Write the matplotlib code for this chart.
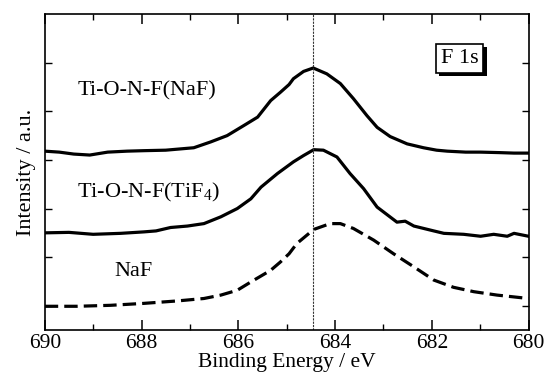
import matplotlib
matplotlib.use('Agg')
import matplotlib.pyplot as plt
import matplotlib.patheffects as pe
from matplotlib.ticker import MultipleLocator

plt.rcParams['font.family'] = ['Liberation Serif', 'DejaVu Serif']
plt.rcParams['mathtext.fontset'] = 'custom'
plt.rcParams['mathtext.rm'] = 'Liberation Serif'

# F 1s spectra (binding energy in eV, intensity offset in arb. units)
e_naf_film = [690.0, 689.7, 689.4, 689.07, 688.7, 688.3, 687.95, 687.5, 686.92, 686.57,
              686.23, 685.88, 685.6, 685.33, 685.13, 684.95, 684.86, 684.65, 684.45,
              684.17, 683.89, 683.62, 683.34, 683.13, 682.86, 682.51, 682.17, 681.9,
              681.68, 681.3, 680.99, 680.6, 680.3, 680.0]
i_naf_film = [3.68, 3.66, 3.62, 3.60, 3.66, 3.68, 3.69, 3.70, 3.75, 3.87,
              4.00, 4.21, 4.38, 4.72, 4.89, 5.05, 5.17, 5.32, 5.39,
              5.27, 5.07, 4.76, 4.41, 4.17, 3.98, 3.83, 3.75, 3.70,
              3.68, 3.66, 3.66, 3.65, 3.64, 3.64]

e_tif4_film = [690.0, 689.5, 689.0, 688.43, 687.95, 687.7, 687.4, 687.05, 686.71, 686.36,
               686.02, 685.74, 685.53, 685.19, 684.86, 684.65, 684.44, 684.24, 683.96,
               683.69, 683.41, 683.13, 682.72, 682.55, 682.37, 681.96, 681.75, 681.34,
               680.99, 680.72, 680.44, 680.3, 680.0]
i_tif4_film = [2.00, 2.01, 1.97, 1.99, 2.02, 2.04, 2.11, 2.14, 2.19, 2.33,
               2.50, 2.70, 2.94, 3.22, 3.46, 3.59, 3.71, 3.70, 3.56,
               3.22, 2.91, 2.53, 2.22, 2.24, 2.14, 2.04, 1.99, 1.97,
               1.93, 1.97, 1.93, 1.99, 1.93]

e_naf_ref = [690.0, 689.33, 688.64, 687.95, 687.26, 686.71, 686.36, 686.02, 685.74,
             685.33, 685.13, 684.95, 684.79, 684.44, 684.1, 683.89, 683.62, 683.2,
             682.79, 682.37, 681.96, 681.55, 681.13, 680.65, 680.0]
i_naf_ref = [0.49, 0.49, 0.51, 0.55, 0.60, 0.65, 0.72, 0.82, 0.99,
             1.23, 1.40, 1.57, 1.78, 2.07, 2.19, 2.19, 2.09, 1.85,
             1.57, 1.30, 1.03, 0.88, 0.79, 0.72, 0.65]

peak_pos = 684.45

fig = plt.figure(figsize=(5.46, 3.79), dpi=100)
ax = fig.add_axes([0.082, 0.129, 0.886, 0.834])

ax.plot(e_naf_film, i_naf_film, color='black', lw=2.3)
ax.plot(e_tif4_film, i_tif4_film, color='black', lw=2.3)
ax.plot(e_naf_ref, i_naf_ref, color='black', lw=2.3, dashes=(4.2, 1.9))
ax.axvline(peak_pos, color='#333333', lw=0.8, dashes=(2, 1))

ax.text(687.89, 4.93, 'Ti-O-N-F(NaF)', fontsize=16, ha='center', va='center')
ax.text(687.85, 2.84, 'Ti-O-N-F(TiF$_4$)', fontsize=16, ha='center', va='center')
ax.text(688.16, 1.20, 'NaF', fontsize=16, ha='center', va='center')

t = ax.text(681.43, 5.59, 'F 1s', fontsize=16, ha='center', va='center',
            bbox=dict(boxstyle='square,pad=0.22', fc='white', ec='black', lw=1.2))
t.get_bbox_patch().set_path_effects([
    pe.SimplePatchShadow(offset=(2.5, -2.5), shadow_rgbFace='black', alpha=1.0),
    pe.Normal()])

ax.set_xlim(690, 680)
ax.set_ylim(0, 6.5)
ax.xaxis.set_major_locator(MultipleLocator(2))
ax.xaxis.set_minor_locator(MultipleLocator(1))
ax.set_yticks([0.5, 1.5, 2.5, 3.5, 4.5, 5.5])
ax.set_yticklabels([])
ax.tick_params(which='both', direction='in', top=True, right=True)
ax.tick_params(which='major', axis='x', length=7, width=1.1, labelsize=15.5, pad=3)
ax.tick_params(which='minor', axis='x', length=4, width=1.0)
ax.tick_params(axis='y', length=5, width=1.0)
for s in ax.spines.values():
    s.set_linewidth(1.2)

ax.set_xlabel('Binding Energy / eV', fontsize=15.5, labelpad=0)
ax.set_ylabel('Intensity / a.u.', fontsize=16, labelpad=3)

fig.savefig('out.png', dpi=100)
